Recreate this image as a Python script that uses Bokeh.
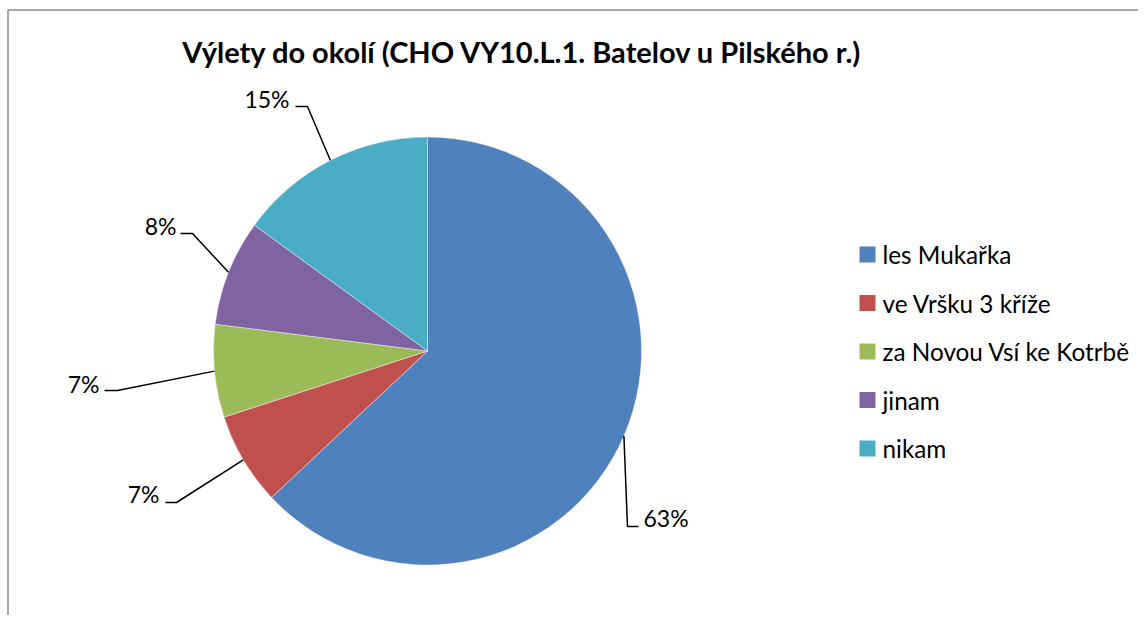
import math
from bokeh.plotting import figure
from bokeh.models import Range1d
from bokeh.core.properties import value
from bokeh.embed import file_html
from bokeh.resources import INLINE

# ---- data ----
title_text = "Výlety do okolí (CHO VY10.L.1. Batelov u Pilského r.)"
categories = ["les Mukařka", "ve Vršku 3 kříže", "za Novou Vsí ke Kotrbě", "jinam", "nikam"]
shares = [63, 7, 7, 8, 15]
colors = ["#4F81BD", "#C0504D", "#9BBB59", "#8064A2", "#4BACC6"]

# ---- layout (screen pixels of the picture) ----
W, H = 1138, 615
OX, OY = 0, 0
def sy(y):  # screen y -> data y
    return (OY + H) - y
def sx(x):
    return x - OX

cx, cy, R = sx(427), sy(350.5), 214
# label elbow / end points / text anchors (screen coords), per slice
elbows = [(627, 526), (176, 502), (117, 390), (192, 233), (307, 106)]
ends = [(638, 526), (165, 502), (104, 390), (180, 233), (295, 106)]
text_pos = [(643, 517), (159, 493), (99, 383), (176, 225), (289, 98)]
text_align = ["left", "right", "right", "right", "right"]

FONT = "Lato"

p = figure(width=W, height=H, x_range=Range1d(0, W), y_range=Range1d(0, H),
           output_backend="svg", toolbar_location=None, min_border=0)
p.axis.visible = False
p.grid.visible = False
p.outline_line_color = None
p.background_fill_color = "white"
p.border_fill_color = "white"

# chart-area border (left and top edges visible)
p.line(x=[sx(7.5), sx(7.5), W + 5], y=[-5, sy(9.5), sy(9.5)], line_color="#8a8a8a", line_width=1.5)

total = float(sum(shares))
start = math.pi / 2
starts, endsA, mids = [], [], []
for v in shares:
    a = v / total * 2 * math.pi
    starts.append(start)
    endsA.append(start - a)
    mids.append(start - a / 2)
    start -= a

p.wedge(x=[cx] * len(shares), y=[cy] * len(shares), radius=R,
        start_angle=starts, end_angle=endsA, direction="clock",
        fill_color=colors, line_color="white", line_width=0.4)

# leader lines and labels
for i, v in enumerate(shares):
    x0 = cx + R * math.cos(mids[i])
    y0 = cy + R * math.sin(mids[i])
    ex, ey = elbows[i]
    tx, ty = ends[i]
    p.line(x=[x0, sx(ex), sx(tx)], y=[y0, sy(ey), sy(ty)], line_color="black", line_width=1.5)
    p.text(x=[sx(text_pos[i][0])], y=[sy(text_pos[i][1])], text=[f"{v}%"],
           text_font=value(FONT), text_font_size="23px", text_align=text_align[i],
           text_baseline="middle", text_color="black")

# title
p.text(x=[sx(522)], y=[sy(51)], text=[title_text], text_font=value(FONT),
       text_font_size="29px", text_font_style="bold", text_align="center",
       text_baseline="middle", text_color="black")

# legend
leg_y = [254, 302.5, 351, 399.5, 448]
p.rect(x=[sx(867)] * len(categories), y=[sy(y) for y in leg_y], width=16, height=16,
       fill_color=colors, line_color=None)
p.text(x=[sx(882)] * len(categories), y=[sy(y) for y in leg_y], text=categories,
       text_font=value(FONT), text_font_size="24.3px", text_align="left",
       text_baseline="middle", text_color="black")

open("out.html", "w").write(file_html(p, INLINE))
